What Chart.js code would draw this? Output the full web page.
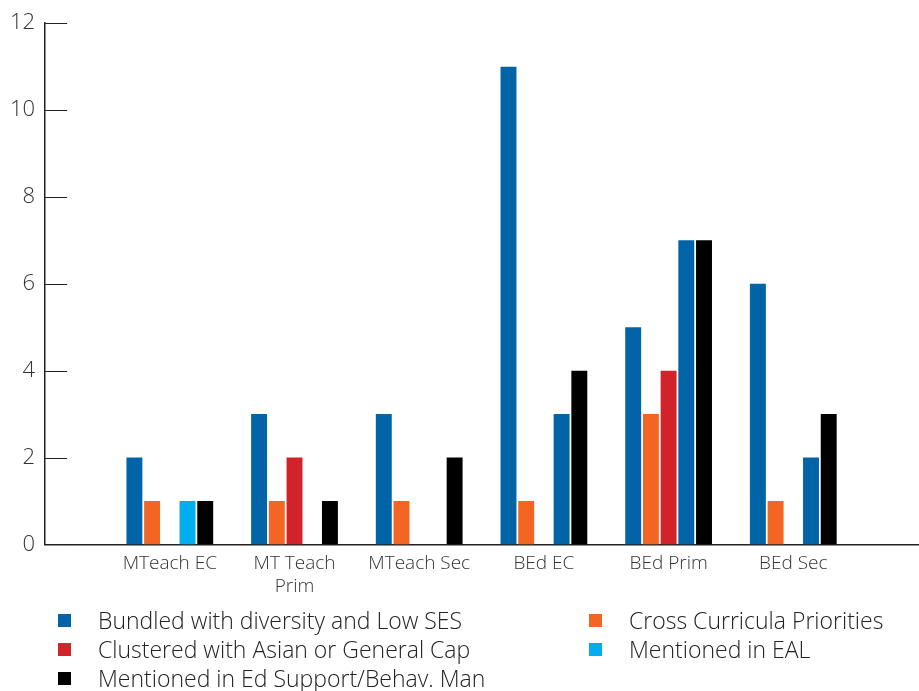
<!DOCTYPE html>
<html>
<head>
<meta charset="utf-8">
<script src="https://cdn.jsdelivr.net/npm/chart.js@4"></script>
<style>
    body { margin: 0; background: #fff; font-family: "Open Sans", sans-serif; }
    #wrap { position: relative; width: 919px; height: 691px; }
    #chartBox { position: absolute; left: 0; top: 0; width: 919px; height: 606px; }
    #legend { position: absolute; left: 0; top: 606px; width: 919px; }
    .lg { position: absolute; height: 28px; line-height: 28px; font-size: 23px; font-weight: 300; color: #222; white-space: nowrap; }
    .lg span.box { display: inline-block; width: 13px; height: 13px; vertical-align: middle; margin-right: 27px; position: relative; top: -2px; }
</style>
</head>
<body>
<div id="wrap">
    <div id="chartBox"><canvas id="barChart"></canvas></div>
    <div id="legend"></div>
</div>
<script>
// categories (blank ones at both ends pad the axis like the original)
var categories = ["", "MTeach EC", ["MT Teach", "Prim"], "MTeach Sec", "BEd EC", "BEd Prim", "BEd Sec", ""];
var seriesNames = ["Bundled with diversity and Low SES", "Cross Curricula Priorities", "Clustered with Asian or General Cap", "Mentioned in EAL", "Mentioned in Ed Support/Behav. Man"];
var bundledLowSES = [null, 2, 3, 3, 11, 5, 6, null];
var crossCurricula = [null, 1, 1, 1, 1, 3, 1, null];
var clusteredAsian = [null, null, 2, null, null, 4, null, null];
var mentionedEAL = [null, 1, null, null, 3, 7, 2, null];
var mentionedEdSupport = [null, 1, 1, 2, 4, 7, 3, null];
var yTicks = [0, 2, 4, 6, 8, 10, 12];

var blue = "#0064A7", orange = "#F26522", red = "#D2232A", cyan = "#00AEEF", black = "#000000";
// the EAL bars in the BEd groups are drawn dark blue in the original
var ealColors = [cyan, cyan, cyan, cyan, blue, blue, blue, cyan];
var legendColors = [blue, orange, red, cyan, black];
var fontFam = "'Open Sans', sans-serif";

// short tick marks that point into the plot from the y axis
var innerTicks = {
    id: 'innerTicks',
    afterDraw: function (chart) {
        var ctx = chart.ctx, y = chart.scales.y, area = chart.chartArea;
        ctx.save();
        ctx.strokeStyle = "#222";
        ctx.lineWidth = 1;
        y.ticks.forEach(function (t) {
            var py = Math.round(y.getPixelForValue(t.value)) + 0.5;
            ctx.beginPath();
            ctx.moveTo(area.left, py);
            ctx.lineTo(area.left + 22, py);
            ctx.stroke();
        });
        ctx.restore();
    }
};

var chartDiv = document.getElementById("barChart");
var myChart = new Chart(chartDiv, {
    type: 'bar',
    data: {
        labels: categories,
        datasets: [
            { label: seriesNames[0], data: bundledLowSES, backgroundColor: blue },
            { label: seriesNames[1], data: crossCurricula, backgroundColor: orange },
            { label: seriesNames[2], data: clusteredAsian, backgroundColor: red },
            { label: seriesNames[3], data: mentionedEAL, backgroundColor: ealColors },
            { label: seriesNames[4], data: mentionedEdSupport, backgroundColor: black }
        ]
    },
    options: {
        responsive: true,
        maintainAspectRatio: false,
        animation: false,
        layout: { padding: { top: 0, right: 1, left: 0, bottom: 0 } },
        datasets: { bar: { categoryPercentage: 0.71, barPercentage: 0.9 } },
        plugins: {
            legend: { display: false },
            tooltip: { enabled: false }
        },
        scales: {
            x: {
                offset: false,
                afterFit: function (scale) { scale.paddingRight = 0; },
                grid: { display: false, drawTicks: false },
                border: { display: true, color: "#222", width: 1.5 },
                ticks: {
                    autoSkip: false,
                    maxRotation: 0,
                    padding: 8,
                    color: "#333",
                    font: { family: fontFam, size: 19, weight: 300 }
                }
            },
            y: {
                min: 0,
                max: 12,
                afterBuildTicks: function (scale) {
                    scale.ticks = yTicks.map(function (v) { return { value: v }; });
                },
                grid: { display: false, drawTicks: false },
                border: { display: true, color: "#222", width: 1.5 },
                ticks: {
                    padding: 10,
                    color: "#333",
                    font: { family: fontFam, size: 22, weight: 300 }
                }
            }
        }
    },
    plugins: [innerTicks]
});

// two column legend under the chart
var legendPos = [[58, 0], [589, 0], [58, 29], [589, 29], [58, 58]];
var legendHtml = '';
seriesNames.forEach(function (name, i) {
    legendHtml += '<div class="lg" style="left:' + legendPos[i][0] + 'px;top:' + legendPos[i][1] + 'px">' +
        '<span class="box" style="background:' + legendColors[i] + '"></span>' + name + '</div>';
});
document.getElementById("legend").innerHTML = legendHtml;
</script>
</body>
</html>
